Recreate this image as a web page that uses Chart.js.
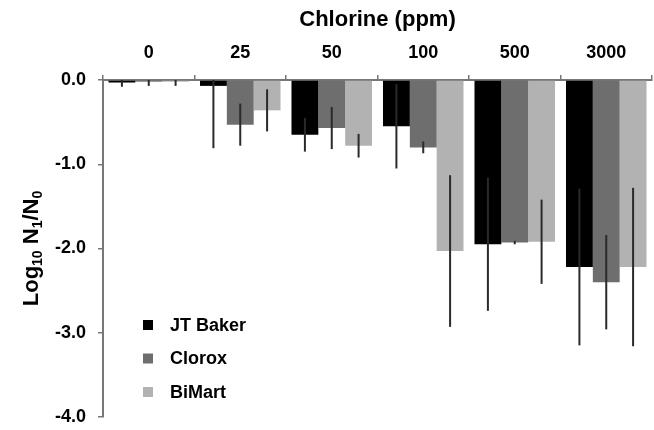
<!DOCTYPE html>
<html lang="en">
<head>
    <meta charset="UTF-8">
    <title>Chlorine (ppm)</title>
    <script src="https://cdn.jsdelivr.net/npm/chart.js"></script>
    <style>
        body { margin: 0; padding: 0; background: #fff; }
        #wrap { width: 654px; height: 430px; }
    </style>
</head>
<body>

<div id="wrap">
    <canvas id="chlorineChart"></canvas>
</div>

<script>
    // Concentrations (ppm) and log reductions
    const categories = ['0', '25', '50', '100', '500', '3000'];
    const seriesNames = ['JT Baker', 'Clorox', 'BiMart'];
    const jtBaker = [-0.03, -0.07, -0.65, -0.55, -1.95, -2.22];
    const clorox = [-0.02, -0.53, -0.57, -0.80, -1.93, -2.40];
    const biMart = [-0.02, -0.36, -0.78, -2.03, -1.92, -2.22];
    const jtBakerErr = [0.05, 0.74, 0.20, 0.50, 0.79, 0.93];
    const cloroxErr = [0.05, 0.25, 0.25, 0.07, 0.02, 0.56];
    const biMartErr = [0.05, 0.25, 0.14, 0.90, 0.50, 0.94];
    const yTicks = [0, -1, -2, -3, -4];

    const FONT = "'Liberation Sans', Arial, sans-serif";
    const colors = ['#000000', '#6e6e6e', '#b2b2b2'];
    const errors = [jtBakerErr, cloroxErr, biMartErr];

    // error bars, clipped to the plot area
    const errorBars = {
        id: 'errorBars',
        afterDatasetsDraw(chart) {
            const ctx = chart.ctx;
            const area = chart.chartArea;
            const y = chart.scales.y;
            ctx.save();
            ctx.beginPath();
            ctx.rect(area.left, area.top, area.right - area.left, area.bottom - area.top);
            ctx.clip();
            ctx.strokeStyle = '#2a2a2a';
            ctx.lineWidth = 2;
            chart.data.datasets.forEach((ds, i) => {
                chart.getDatasetMeta(i).data.forEach((bar, j) => {
                    const v = ds.data[j], e = errors[i][j];
                    ctx.beginPath();
                    ctx.moveTo(bar.x, y.getPixelForValue(v + e));
                    ctx.lineTo(bar.x, y.getPixelForValue(v - e));
                    ctx.stroke();
                });
            });
            ctx.restore();
        }
    };

    // y title with subscripts + legend inside the plot
    const extras = {
        id: 'extras',
        afterDraw(chart) {
            const ctx = chart.ctx;
            const area = chart.chartArea;
            ctx.save();
            ctx.fillStyle = '#000';

            // rotated axis title: Log10 N1/N0
            const parts = [['Log', 0], ['10', 1], [' N', 0], ['1', 1], ['/N', 0], ['0', 1]];
            const big = 'bold 22px ' + FONT, small = 'bold 14px ' + FONT;
            let total = 0;
            parts.forEach(p => { ctx.font = p[1] ? small : big; total += ctx.measureText(p[0]).width; });
            ctx.translate(30, (area.top + area.bottom) / 2);
            ctx.rotate(-Math.PI / 2);
            ctx.textBaseline = 'alphabetic';
            let x = -total / 2;
            parts.forEach(p => {
                ctx.font = p[1] ? small : big;
                ctx.fillText(p[0], x, p[1] ? 12 : 8);
                x += ctx.measureText(p[0]).width;
            });
            ctx.setTransform(1, 0, 0, 1, 0, 0);

            // legend
            ctx.font = 'bold 18px ' + FONT;
            ctx.textBaseline = 'middle';
            chart.data.datasets.forEach((ds, i) => {
                const cy = area.bottom - 92 + i * 33.5;
                ctx.fillStyle = ds.backgroundColor;
                ctx.fillRect(area.left + 40, cy - 5, 10, 10);
                ctx.fillStyle = '#000';
                ctx.fillText(ds.label, area.left + 67, cy + 1);
            });
            ctx.restore();
        }
    };

    const ctx = document.getElementById('chlorineChart').getContext('2d');
    new Chart(ctx, {
        type: 'bar',
        data: {
            labels: categories,
            datasets: [jtBaker, clorox, biMart].map((vals, i) => ({
                label: seriesNames[i],
                data: vals,
                backgroundColor: colors[i],
                borderWidth: 0,
                categoryPercentage: 0.88,
                barPercentage: 1.0
            }))
        },
        options: {
            responsive: true,
            maintainAspectRatio: false,
            animation: false,
            layout: { padding: { left: 0, right: 2, top: 0, bottom: 13 } },
            plugins: {
                legend: { display: false },
                tooltip: { enabled: false }
            },
            scales: {
                x: {
                    position: 'top',
                    offset: true,
                    grid: {
                        offset: true,
                        drawOnChartArea: false,
                        drawTicks: true,
                        tickLength: 5,
                        color: '#777',
                        lineWidth: 1.5
                    },
                    border: { display: true, color: '#777', width: 2 },
                    ticks: {
                        color: '#000',
                        padding: 11,
                        font: { family: FONT, size: 18, weight: 'bold' }
                    },
                    title: {
                        display: true,
                        text: 'Chlorine (ppm)',
                        color: '#000',
                        padding: { top: 7, bottom: 0 },
                        font: { family: FONT, size: 22, weight: 'bold' }
                    },
                    afterFit: scale => { scale.height = 80; }
                },
                y: {
                    min: -4,
                    max: 0,
                    afterBuildTicks: scale => { scale.ticks = yTicks.map(v => ({ value: v })); },
                    grid: {
                        drawOnChartArea: false,
                        drawTicks: true,
                        tickLength: 5,
                        color: '#777',
                        lineWidth: 1.5
                    },
                    border: { display: true, color: '#777', width: 2 },
                    ticks: {
                        color: '#000',
                        padding: 12,
                        font: { family: FONT, size: 18, weight: 'bold' },
                        callback: value => value.toFixed(1)
                    },
                    afterFit: scale => {
                        scale.width = 103;
                        scale.paddingTop = 0;
                        scale.paddingBottom = 0;
                    }
                }
            }
        },
        plugins: [errorBars, extras]
    });
</script>

</body>
</html>
